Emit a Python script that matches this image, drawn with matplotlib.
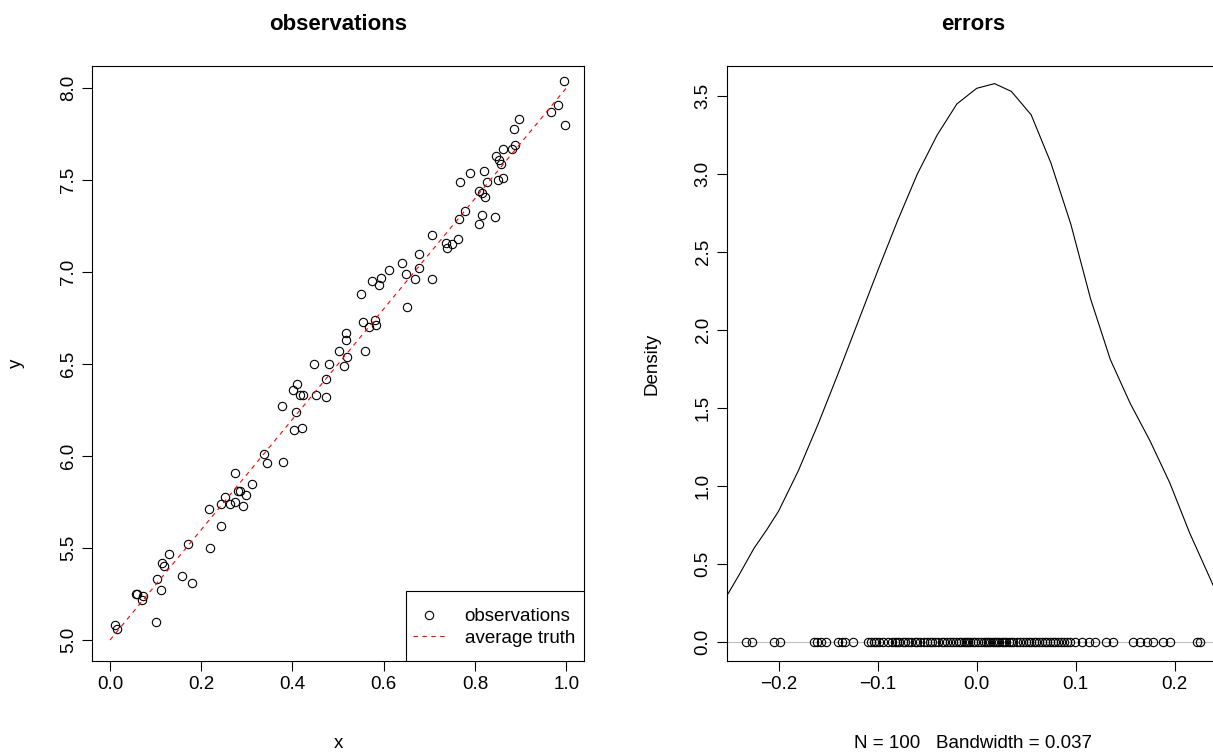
import matplotlib.pyplot as plt
from matplotlib.patches import Rectangle
import numpy as np

plt.rcParams['font.family'] = ['Liberation Sans', 'DejaVu Sans']
plt.rcParams['font.size'] = 13.5

# observations
obs_x = [0.011, 0.015, 0.058, 0.060, 0.070, 0.073, 0.101, 0.111, 0.104, 0.114,
         0.118, 0.130, 0.157, 0.180, 0.170, 0.219, 0.244, 0.217, 0.243, 0.251,
         0.262, 0.275, 0.281, 0.285, 0.298, 0.291, 0.275, 0.311, 0.338, 0.344,
         0.380, 0.376, 0.407, 0.404, 0.421, 0.401, 0.409, 0.417, 0.423, 0.452,
         0.474, 0.474, 0.447, 0.480, 0.512, 0.519, 0.503, 0.560, 0.518, 0.518,
         0.554, 0.568, 0.581, 0.583, 0.550, 0.575, 0.589, 0.595, 0.612, 0.650,
         0.640, 0.648, 0.668, 0.677, 0.677, 0.705, 0.705, 0.736, 0.738, 0.749,
         0.762, 0.765, 0.779, 0.808, 0.815, 0.843, 0.808, 0.815, 0.823, 0.768,
         0.789, 0.819, 0.826, 0.851, 0.861, 0.846, 0.852, 0.857, 0.862, 0.881,
         0.887, 0.886, 0.896, 0.966, 0.981, 0.996, 0.998]
obs_y = [5.08, 5.06, 5.25, 5.25, 5.22, 5.24, 5.10, 5.27, 5.33, 5.42,
         5.40, 5.47, 5.35, 5.31, 5.52, 5.50, 5.62, 5.71, 5.74, 5.78,
         5.74, 5.75, 5.81, 5.81, 5.79, 5.73, 5.91, 5.85, 6.01, 5.96,
         5.97, 6.27, 6.24, 6.14, 6.15, 6.36, 6.39, 6.33, 6.33, 6.33,
         6.32, 6.42, 6.50, 6.50, 6.49, 6.54, 6.57, 6.57, 6.63, 6.67,
         6.73, 6.70, 6.74, 6.71, 6.88, 6.95, 6.93, 6.97, 7.01, 6.81,
         7.05, 6.99, 6.96, 7.02, 7.10, 6.96, 7.20, 7.16, 7.13, 7.15,
         7.18, 7.29, 7.33, 7.26, 7.31, 7.30, 7.44, 7.43, 7.41, 7.49,
         7.54, 7.55, 7.49, 7.50, 7.51, 7.63, 7.61, 7.59, 7.67, 7.67,
         7.69, 7.78, 7.83, 7.87, 7.91, 8.04, 7.80]

truth_x = [0.0, 1.0]
truth_y = [5.0, 8.0]

# density curve of the errors
dens_x = [-0.252, -0.240, -0.225, -0.212, -0.200, -0.180, -0.160, -0.140,
          -0.120, -0.100, -0.080, -0.060, -0.040, -0.020, 0.000, 0.018,
          0.035, 0.055, 0.075, 0.095, 0.115, 0.135, 0.155, 0.175, 0.195,
          0.215, 0.2447]
dens_y = [0.30, 0.43, 0.60, 0.72, 0.84, 1.10, 1.40, 1.72,
          2.05, 2.38, 2.70, 3.00, 3.25, 3.45, 3.55, 3.58,
          3.53, 3.38, 3.07, 2.68, 2.20, 1.81, 1.53, 1.29, 1.02,
          0.70, 0.28]

# errors drawn as points on the zero line
err = [-0.233, -0.227, -0.205, -0.199, -0.164, -0.161, -0.157, -0.152, -0.140,
       -0.136, -0.133, -0.125,
       -0.110, -0.107, -0.104, -0.102, -0.099, -0.095, -0.090, -0.086,
       -0.083, -0.081, -0.078, -0.074, -0.072, -0.069, -0.066, -0.062, -0.060,
       -0.057, -0.053, -0.050, -0.047, -0.045, -0.042, -0.039, -0.035, -0.033,
       -0.030, -0.027, -0.024, -0.021, -0.018, -0.016, -0.013, -0.011, -0.009,
       -0.007,
       -0.004, -0.002, 0.001, 0.004, 0.007, 0.009, 0.011, 0.013, 0.016, 0.018,
       0.020, 0.023, 0.026, 0.028, 0.030, 0.033, 0.035, 0.037,
       0.041, 0.044, 0.047, 0.050, 0.053, 0.055, 0.058, 0.060, 0.063, 0.066,
       0.069, 0.071, 0.074, 0.077, 0.079, 0.082, 0.085, 0.088, 0.091, 0.094,
       0.099, 0.106, 0.113, 0.119, 0.131, 0.138, 0.158, 0.165, 0.172, 0.178,
       0.188, 0.195, 0.222, 0.226]

W, H = 1213, 756
fig = plt.figure(figsize=(W / 100, H / 100), dpi=100)

def box(left, top, right, bottom):
    return [left / W, 1 - bottom / H, (right - left) / W, (bottom - top) / H]

def r_style(ax):
    for s in ax.spines.values():
        s.set_linewidth(0.8)
    ax.tick_params(length=7, width=0.8, pad=4, labelsize=13.5)
    for lab in ax.get_yticklabels():
        lab.set_rotation(90)
        lab.set_va('center')

# left panel
ax1 = fig.add_axes(box(92, 66, 584, 661))
ax1.plot(obs_x, obs_y, 'o', ms=6, mfc='none', mec='black', mew=0.8,
         label='observations')
ax1.plot(truth_x, truth_y, '--', color='red', lw=0.8, dashes=(4, 4),
         label='average truth')
ax1.set_xlim(-0.0395, 1.039)
ax1.set_ylim(4.886, 8.12)
ax1.set_xticks([0.0, 0.2, 0.4, 0.6, 0.8, 1.0])
ax1.set_yticks([5.0, 5.5, 6.0, 6.5, 7.0, 7.5, 8.0])
ax1.set_xticklabels(['0.0', '0.2', '0.4', '0.6', '0.8', '1.0'])
ax1.set_yticklabels(['5.0', '5.5', '6.0', '6.5', '7.0', '7.5', '8.0'])
r_style(ax1)
ax1.set_xlabel('x', labelpad=30)
ax1.set_ylabel('y', labelpad=25)
ax1.set_title('observations', fontweight='bold', fontsize=16, pad=26)

# legend box in the lower right corner, R style
ax1.add_patch(Rectangle((314 / 492, 0), 178 / 492, 70 / 595,
                        transform=ax1.transAxes, facecolor='white',
                        edgecolor='black', lw=0.8, zorder=3))
leg = ax1.legend(loc='lower right', bbox_to_anchor=(1 - 9 / 492, 14 / 595),
                 borderaxespad=0, borderpad=0, frameon=False,
                 handlelength=1.65, handletextpad=1.1, labelspacing=0.25,
                 fontsize=13.5)
leg.set_zorder(4)

# right panel
ax2 = fig.add_axes(box(727, 66, 1219, 661))
ax2.axhline(0, color='#bebebe', lw=0.8)
ax2.plot(dens_x, dens_y, color='black', lw=0.8)
ax2.plot(err, np.zeros(len(err)), 'o', ms=6, mfc='none', mec='black', mew=0.8)
ax2.set_xlim(-0.2522, 0.2447)
ax2.set_ylim(-0.122, 3.693)
ax2.set_xticks([-0.2, -0.1, 0.0, 0.1, 0.2])
ax2.set_xticklabels(['\u22120.2', '\u22120.1', '0.0', '0.1', '0.2'])
ax2.set_yticks([0.0, 0.5, 1.0, 1.5, 2.0, 2.5, 3.0, 3.5])
ax2.set_yticklabels(['0.0', '0.5', '1.0', '1.5', '2.0', '2.5', '3.0', '3.5'])
r_style(ax2)
ax2.set_xlabel('N = 100   Bandwidth = 0.037', labelpad=30)
ax2.set_ylabel('Density', labelpad=25)
ax2.set_title('errors', fontweight='bold', fontsize=16, pad=26)

fig.savefig('out.png', dpi=100)
